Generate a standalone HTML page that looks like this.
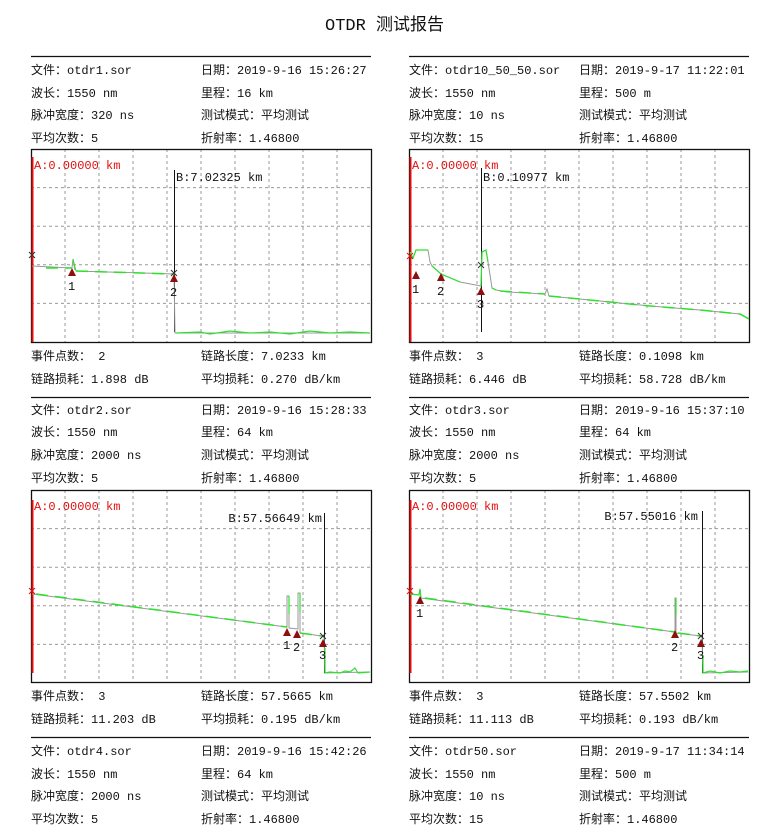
<!DOCTYPE html>
<html><head><meta charset="utf-8"><style>
html,body{margin:0;padding:0;background:#fff;}
svg{display:block;}
text{font-family:"Liberation Mono","Noto Sans CJK SC",monospace;font-size:12px;fill:#111;}
.t{font-size:17px;}
.red{fill:#e01010;}
.g{stroke:#999;stroke-width:1;stroke-dasharray:3,3;}
.fr{fill:none;stroke:#111;stroke-width:1.3;}
.tr{fill:none;stroke:#999;stroke-width:1;}
.tg{fill:none;stroke:#2ee02e;stroke-width:1.5;stroke-dasharray:12,7;}
.tgs{fill:none;stroke:#2ee02e;stroke-width:1.2;}
.mk{fill:#8b1010;}
</style></head><body>
<svg width="782" height="830" viewBox="0 0 782 830">
<defs>
<g id="grid">
<path class="g" d="M34,0V193M68,0V193M102,0V193M136,0V193M170,0V193M204,0V193M238,0V193M272,0V193M306,0V193M0,38.6H340M0,77.2H340M0,115.8H340M0,154.4H340"/>
</g>
</defs>
<text class="t" x="325" y="30">OTDR 测试报告</text>

<path d="M31,56.5H371M409,56.5H749M31,397.5H371M409,397.5H749M31,737.5H371M409,737.5H749" stroke="#111" stroke-width="1.2"/>

<text x="31" y="74">文件：otdr1.sor</text><text x="201" y="74">日期：2019-9-16 15:26:27</text>
<text x="31" y="97">波长：1550 nm</text><text x="201" y="97">里程：16 km</text>
<text x="31" y="119">脉冲宽度：320 ns</text><text x="201" y="119">测试模式：平均测试</text>
<text x="31" y="142">平均次数：5</text><text x="201" y="142">折射率：1.46800</text>
<text x="409" y="74">文件：otdr10_50_50.sor</text><text x="579" y="74">日期：2019-9-17 11:22:01</text>
<text x="409" y="97">波长：1550 nm</text><text x="579" y="97">里程：500 m</text>
<text x="409" y="119">脉冲宽度：10 ns</text><text x="579" y="119">测试模式：平均测试</text>
<text x="409" y="142">平均次数：15</text><text x="579" y="142">折射率：1.46800</text>

<!-- chart 1 -->
<g transform="translate(31,149)"><use href="#grid"/></g>
<rect class="fr" x="31.5" y="149.5" width="340" height="193"/>
<path d="M32.5,157V342" stroke="#e01010" stroke-width="2"/>
<text class="red" x="34" y="169">A:0.00000 km</text>
<path d="M174.5,170V332" stroke="#111"/>
<text x="176" y="181">B:7.02325 km</text>
<path class="tr" d="M32,266L72,268L73,259L76,271L174,274L175,333L370,333"/>
<path class="tg" d="M46,268L72,268M76,271L174,274"/>
<path class="tgs" d="M73,259L75,270M176,333L200,332L210,334L230,331L250,333L270,332L290,334L310,331L330,333L350,332L370,333"/>
<path d="M29,252L35,258M35,252L29,258M171,270L177,276M177,270L171,276" stroke="#333"/>
<path class="mk" d="M72,268L76,276L68,276ZM174,274L178,282L170,282Z"/>
<text x="68" y="290">1</text><text x="170" y="296">2</text>

<!-- chart 2 -->
<g transform="translate(409,149)"><use href="#grid"/></g>
<rect class="fr" x="409.5" y="149.5" width="340" height="193"/>
<path d="M410.5,157V342" stroke="#e01010" stroke-width="2"/>
<text class="red" x="412" y="169">A:0.00000 km</text>
<path d="M481.5,168V332" stroke="#111"/>
<text x="483" y="181">B:0.10977 km</text>
<path class="tr" d="M410,252L413,258L416,250L428,250L430,262L432,266L441,274L460,282L481,286L482,252L486,250L488,262L492,288L496,290L507,292L545,294L547,289L549,296L600,301L650,306L700,310L740,314L749,319"/>
<path class="tgs" d="M410,252L413,258L416,250L428,250M432,266L441,274L460,282M481,286L482,252L486,250L488,262M492,288L496,290"/>
<path class="tg" d="M500,291L545,294M549,296L600,301L650,306L700,310L740,314L749,319"/>
<path d="M407,253L413,259M413,253L407,259" stroke="#e01010"/>
<path d="M478,262L484,268M484,262L478,268" stroke="#333"/>
<path class="mk" d="M416,271L420,279L412,279ZM441,273L445,281L437,281ZM481,287L485,295L477,295Z"/>
<text x="412" y="293">1</text><text x="437" y="295">2</text><text x="477" y="308">3</text>

<text x="31" y="360">事件点数： 2</text><text x="201" y="360">链路长度：7.0233 km</text>
<text x="31" y="383">链路损耗：1.898 dB</text><text x="201" y="383">平均损耗：0.270 dB/km</text>
<text x="409" y="360">事件点数： 3</text><text x="579" y="360">链路长度：0.1098 km</text>
<text x="409" y="383">链路损耗：6.446 dB</text><text x="579" y="383">平均损耗：58.728 dB/km</text>

<text x="31" y="414">文件：otdr2.sor</text><text x="201" y="414">日期：2019-9-16 15:28:33</text>
<text x="31" y="436">波长：1550 nm</text><text x="201" y="436">里程：64 km</text>
<text x="31" y="459">脉冲宽度：2000 ns</text><text x="201" y="459">测试模式：平均测试</text>
<text x="31" y="482">平均次数：5</text><text x="201" y="482">折射率：1.46800</text>
<text x="409" y="414">文件：otdr3.sor</text><text x="579" y="414">日期：2019-9-16 15:37:10</text>
<text x="409" y="436">波长：1550 nm</text><text x="579" y="436">里程：64 km</text>
<text x="409" y="459">脉冲宽度：2000 ns</text><text x="579" y="459">测试模式：平均测试</text>
<text x="409" y="482">平均次数：5</text><text x="579" y="482">折射率：1.46800</text>

<!-- chart 3 -->
<g transform="translate(31,490)"><use href="#grid"/></g>
<rect class="fr" x="31.5" y="490.5" width="340" height="192"/>
<path d="M32.5,500V673" stroke="#e01010" stroke-width="2"/>
<text class="red" x="34" y="510">A:0.00000 km</text>
<path d="M324.5,513V673" stroke="#111"/>
<text x="322" y="522" text-anchor="end">B:57.56649 km</text>
<path class="tr" d="M32,594L287,627L287,596L289,596L289,628L298,629L298,593L300,593L300,633L322,636L324,637L325,673L370,672"/>
<path class="tg" d="M36,594L287,627M300,633L322,636"/>
<path class="tgs" d="M289,596L289,614M300,593L300,612M325,648L325,673L330,672L340,673L345,671L350,672L355,668L358,673L370,672"/>
<path d="M29,588L35,594M35,588L29,594" stroke="#e01010"/>
<path d="M320,633L326,639M326,633L320,639" stroke="#333"/>
<path class="mk" d="M287,628L291,636L283,636ZM297,630L301,638L293,638ZM323,639L327,647L319,647Z"/>
<text x="283" y="649">1</text><text x="293" y="651">2</text><text x="319" y="659">3</text>

<!-- chart 4 -->
<g transform="translate(409,490)"><use href="#grid"/></g>
<rect class="fr" x="409.5" y="490.5" width="340" height="192"/>
<path d="M410.5,500V673" stroke="#e01010" stroke-width="2"/>
<text class="red" x="412" y="510">A:0.00000 km</text>
<path d="M702.5,511V673" stroke="#111"/>
<text x="698" y="520" text-anchor="end">B:57.55016 km</text>
<path class="tr" d="M410,594L419,595L420,589L421,598L675,632L675,598L676,598L676,633L701,636L702,637L703,673L748,672"/>
<path class="tg" d="M425,598L675,632M678,633L701,636"/>
<path class="tgs" d="M410,594L419,595L420,589L421,598M676,598L676,615M703,655L703,673L710,671L720,673L730,671L740,672L748,671"/>
<path d="M407,588L413,594M413,588L407,594" stroke="#e01010"/>
<path d="M698,633L704,639M704,633L698,639" stroke="#333"/>
<path class="mk" d="M420,596L424,604L416,604ZM675,630L679,638L671,638ZM701,639L705,647L697,647Z"/>
<text x="416" y="617">1</text><text x="671" y="651">2</text><text x="697" y="659">3</text>

<text x="31" y="700">事件点数： 3</text><text x="201" y="700">链路长度：57.5665 km</text>
<text x="31" y="723">链路损耗：11.203 dB</text><text x="201" y="723">平均损耗：0.195 dB/km</text>
<text x="409" y="700">事件点数： 3</text><text x="579" y="700">链路长度：57.5502 km</text>
<text x="409" y="723">链路损耗：11.113 dB</text><text x="579" y="723">平均损耗：0.193 dB/km</text>

<text x="31" y="755">文件：otdr4.sor</text><text x="201" y="755">日期：2019-9-16 15:42:26</text>
<text x="31" y="778">波长：1550 nm</text><text x="201" y="778">里程：64 km</text>
<text x="31" y="800">脉冲宽度：2000 ns</text><text x="201" y="800">测试模式：平均测试</text>
<text x="31" y="823">平均次数：5</text><text x="201" y="823">折射率：1.46800</text>
<text x="409" y="755">文件：otdr50.sor</text><text x="579" y="755">日期：2019-9-17 11:34:14</text>
<text x="409" y="778">波长：1550 nm</text><text x="579" y="778">里程：500 m</text>
<text x="409" y="800">脉冲宽度：10 ns</text><text x="579" y="800">测试模式：平均测试</text>
<text x="409" y="823">平均次数：15</text><text x="579" y="823">折射率：1.46800</text>
</svg>
</body></html>
